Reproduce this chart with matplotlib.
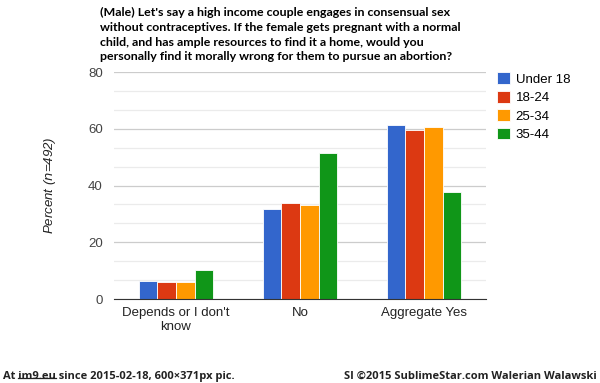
import numpy as np
import matplotlib
matplotlib.use('Agg')
import matplotlib.pyplot as plt
from matplotlib.ticker import MultipleLocator
from matplotlib.lines import Line2D

# Survey data (percent)
categories = ["Depends or I don't\nknow", "No", "Aggregate Yes"]
series_names = ["Under 18", "18-24", "25-34", "35-44"]
under_18 = [6.5, 31.8, 61.3]
age_18_24 = [5.9, 33.9, 59.6]
age_25_34 = [5.9, 33.3, 60.6]
age_35_44 = [10.1, 51.5, 37.8]
colors = ['#3366cc', '#dc3912', '#ff9900', '#109618']

title = ("(Male) Let's say a high income couple engages in consensual sex\n"
         "without contraceptives. If the female gets pregnant with a normal\n"
         "child, and has ample resources to find it a home, would you\n"
         "personally find it morally wrong for them to pursue an abortion?")

plt.rcParams['font.family'] = ['Liberation Sans', 'DejaVu Sans']

fig = plt.figure(figsize=(6.0, 3.83), dpi=100)
ax = fig.add_axes([0.19, 0.219, 0.62, 0.593])

x = np.arange(len(categories))
width = 0.15
all_series = [under_18, age_18_24, age_25_34, age_35_44]
for i, (vals, name) in enumerate(zip(all_series, series_names)):
    ax.bar(x + (i - 1.5) * width, vals, width, color=colors[i],
           edgecolor='white', linewidth=0.6, label=name, zorder=3)

ax.set_xlim(-0.5, 2.5)
ax.set_ylim(0, 80)
ax.yaxis.set_major_locator(MultipleLocator(20))
ax.yaxis.set_minor_locator(MultipleLocator(20 / 3))
ax.grid(axis='y', which='major', color='#cccccc', linewidth=0.9, zorder=0)
ax.grid(axis='y', which='minor', color='#ebebeb', linewidth=0.9, zorder=0)
for s in ['top', 'right', 'left']:
    ax.spines[s].set_visible(False)
ax.spines['bottom'].set_color('#333333')
ax.spines['bottom'].set_zorder(4)
ax.tick_params(axis='both', which='both', length=0)
ax.tick_params(axis='y', labelsize=9.5, labelcolor='#444444', pad=8)
ax.tick_params(axis='x', labelsize=9.5, labelcolor='#222222', pad=6)
ax.set_xticks(x)
ax.set_xticklabels(categories)
ax.set_ylabel('Percent ($n$=492)', fontsize=9.5, style='italic', color='#222222', labelpad=22)

fig.text(0.167, 0.982, title, ha='left', va='top', fontsize=8.9,
         fontweight='bold', color='#000000', linespacing=1.42,
         family=['Lato', 'Liberation Sans', 'DejaVu Sans'])

ax.legend(loc='upper left', bbox_to_anchor=(1.0, 1.045), frameon=False,
          fontsize=9.5, handlelength=1.0, handleheight=1.0, handletextpad=0.45,
          labelspacing=0.38, borderaxespad=0.4)

foot_font = dict(fontsize=8.0, fontweight='bold', color='#222222',
                 family=['Open Sans', 'DejaVu Sans'])
left_txt = fig.text(0.005, 0.003, 'At im9.eu since 2015-02-18, 600\u00d7371px pic.',
                    ha='left', va='bottom', **foot_font)
fig.text(0.995, 0.003, 'SI \u00a92015 SublimeStar.com Walerian Walawski',
         ha='right', va='bottom', **foot_font)

# underline the "im9.eu" link
renderer = fig.canvas.get_renderer()
pre = fig.text(0.005, 0.003, 'At ', ha='left', va='bottom', **foot_font)
link = fig.text(0.005, 0.003, 'At im9.eu', ha='left', va='bottom', **foot_font)
x0 = pre.get_window_extent(renderer).x1
x1 = link.get_window_extent(renderer).x1
pre.remove()
link.remove()
y_line = left_txt.get_window_extent(renderer).y0 + 4.0
fig.add_artist(Line2D([x0, x1], [y_line, y_line], transform=None,
                      color='#222222', linewidth=0.9))

fig.savefig('out.png', dpi=100)
